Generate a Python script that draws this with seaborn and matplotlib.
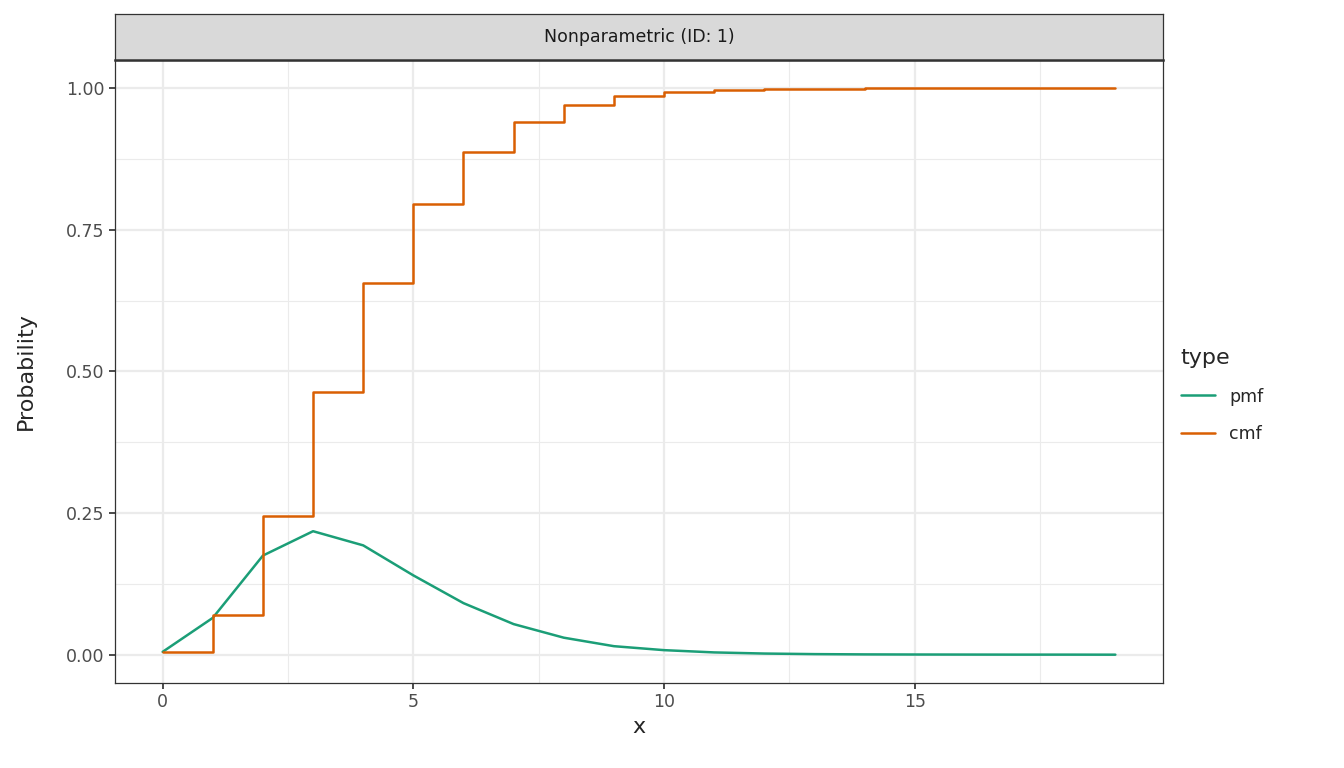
import numpy as np
import pandas as pd
import matplotlib.pyplot as plt
from matplotlib.ticker import MultipleLocator
import seaborn as sns

# Data
x_vals = list(range(20))
pmf_vals = [0.005, 0.065, 0.175, 0.218, 0.193, 0.140, 0.091, 0.054, 0.030, 0.015,
            0.008, 0.004, 0.002, 0.001, 0.0005, 0.0003, 0.0002, 0.0001, 0.0001, 0.0]
cmf_vals = [0.005, 0.070, 0.245, 0.463, 0.656, 0.796, 0.887, 0.941, 0.971, 0.986,
            0.994, 0.997, 0.999, 0.9995, 0.9998, 0.9999, 1.0, 1.0, 1.0, 1.0]

sns.set_theme(style="white")
plt.rcParams["font.family"] = ["DejaVu Sans"]

COLORS = {"pmf": "#1B9E77", "cmf": "#D95F02"}

fig = plt.figure(figsize=(13.44, 7.68), dpi=100)
ax = fig.add_axes([115 / 1344, 1 - 683 / 768, (1163 - 115) / 1344, (683 - 60) / 768])
ax.set_facecolor("white")

pmf_df = pd.DataFrame({"x": x_vals, "p": pmf_vals})
cmf_df = pd.DataFrame({"x": x_vals, "p": cmf_vals})
sns.lineplot(data=pmf_df, x="x", y="p", color=COLORS["pmf"], lw=1.8, ax=ax, zorder=3)
sns.lineplot(data=cmf_df, x="x", y="p", color=COLORS["cmf"], lw=1.8, ax=ax,
             drawstyle="steps-post", zorder=3)

ax.set_xlim(-0.95, 19.95)
ax.set_ylim(-0.05, 1.05)
ax.xaxis.set_major_locator(MultipleLocator(5))
ax.xaxis.set_minor_locator(MultipleLocator(2.5))
ax.yaxis.set_major_locator(MultipleLocator(0.25))
ax.yaxis.set_minor_locator(MultipleLocator(0.125))
ax.set_yticklabels([f"{v:.2f}" for v in ax.get_yticks()])
ax.grid(which="major", color="#EBEBEB", lw=1.6, zorder=0)
ax.grid(which="minor", color="#EBEBEB", lw=0.8, zorder=0)
ax.set_axisbelow(True)
for s in ax.spines.values():
    s.set_color("#333333")
    s.set_linewidth(0.9)
ax.tick_params(which="major", length=4, color="#333333", labelsize=12.5,
               labelcolor="#4D4D4D", bottom=True, left=True)
ax.tick_params(which="minor", length=0)
ax.set_xlabel("x", fontsize=16)
ax.set_ylabel("Probability", fontsize=16, labelpad=22)

# facet strip
strip = fig.add_axes([115 / 1344, 1 - 60 / 768, (1163 - 115) / 1344, 46 / 768])
strip.set_facecolor("#D9D9D9")
strip.set_xticks([])
strip.set_yticks([])
for s in strip.spines.values():
    s.set_color("#333333")
    s.set_linewidth(0.9)
strip.spines["bottom"].set_linewidth(1.8)
strip.text(0.5, 0.5, "Nonparametric (ID: 1)", ha="center", va="center",
           fontsize=12.5, color="#1A1A1A", transform=strip.transAxes)

handles = [plt.Line2D([0], [0], color=COLORS["pmf"], lw=1.8, label="pmf"),
           plt.Line2D([0], [0], color=COLORS["cmf"], lw=1.8, label="cmf")]
fig.legend(handles=handles, title="type", loc="center left",
           bbox_to_anchor=(1165 / 1344, 0.485), frameon=False, fontsize=12.5,
           title_fontsize=16, handlelength=2, alignment="left", labelspacing=1.1)

fig.savefig("out.png", dpi=100)
